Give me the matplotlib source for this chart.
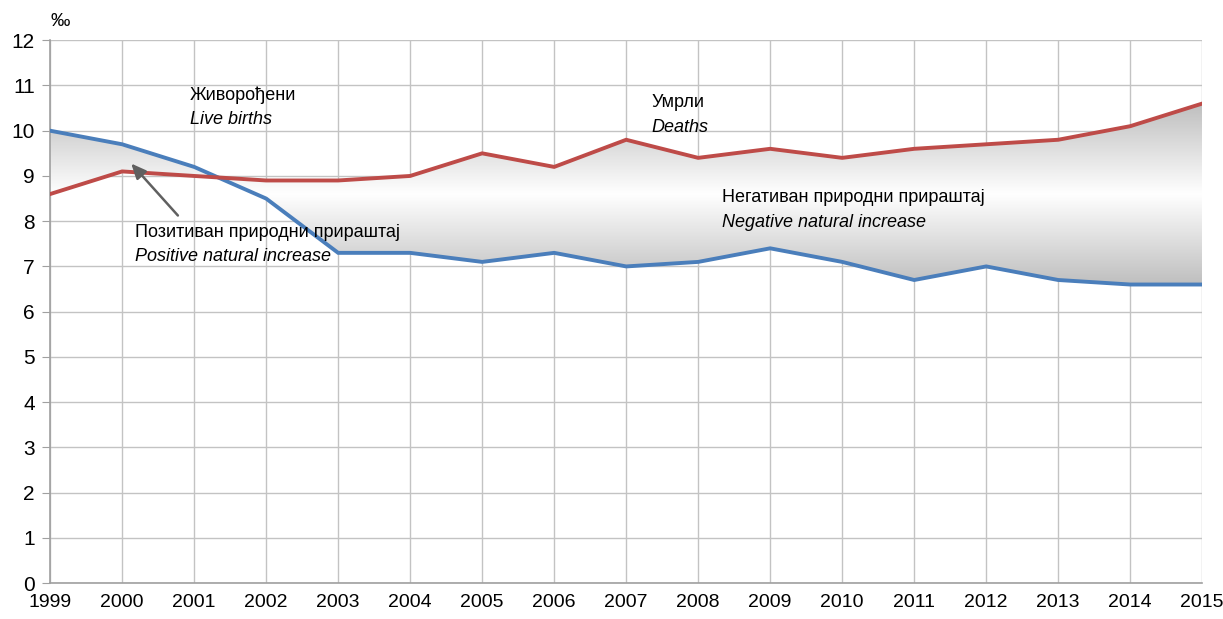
#!/usr/bin/env python3
"""Live births vs deaths per 1000, with natural increase shading."""

import matplotlib

matplotlib.use("Agg")

import matplotlib.pyplot as plt
import numpy as np
from matplotlib.colors import LinearSegmentedColormap

years = list(range(1999, 2016))
live_births = [10.0, 9.7, 9.2, 8.5, 7.3, 7.3, 7.1, 7.3, 7.0, 7.1, 7.4, 7.1, 6.7, 7.0, 6.7, 6.6, 6.6]
deaths = [8.6, 9.1, 9.0, 8.9, 8.9, 9.0, 9.5, 9.2, 9.8, 9.4, 9.6, 9.4, 9.6, 9.7, 9.8, 10.1, 10.6]
y_ticks = list(range(0, 13))

BLUE = "#4a7ebb"
RED = "#be4b48"
GRID = "#c3c3c3"

plt.rcParams["font.family"] = ["Liberation Sans Narrow", "Liberation Sans", "DejaVu Sans"]

fig = plt.figure(figsize=(12.23, 6.19), dpi=100)
ax = fig.add_axes([0.041, 0.058, 0.942, 0.877])

x = np.array(years, dtype=float)
lb = np.array(live_births)
dt = np.array(deaths)

# grey-white-grey vertical gradient clipped to the area between lines
poly = ax.fill_between(x, lb, dt, color="none", linewidth=0)
grad = LinearSegmentedColormap.from_list("g", ["#bdbdbd", "#ffffff", "#bdbdbd"])
img = ax.imshow(np.linspace(0, 1, 256).reshape(-1, 1), cmap=grad, aspect="auto",
                extent=[x[0], x[-1], 6.55, 10.65], origin="upper", zorder=1)
img.set_clip_path(poly.get_paths()[0], transform=ax.transData)

ax.plot(x, lb, color=BLUE, linewidth=2.8, zorder=3, solid_joinstyle="miter")
ax.plot(x, dt, color=RED, linewidth=2.8, zorder=3, solid_joinstyle="miter")

ax.set_xlim(1999, 2015)
ax.set_ylim(0, 12)
ax.set_xticks(years)
ax.set_yticks(y_ticks)
ax.grid(True, color=GRID, linewidth=1.0, zorder=0)
ax.set_axisbelow(True)
for side in ("top", "right"):
    ax.spines[side].set_visible(False)
for side in ("left", "bottom"):
    ax.spines[side].set_color("#a0a0a0")
    ax.spines[side].set_linewidth(1.2)
ax.tick_params(axis="y", length=6, color="#a0a0a0", labelsize=15, pad=5)
ax.tick_params(axis="x", length=0, labelsize=14, pad=8)

fig.text(0.049, 0.965, "‰", fontsize=14, ha="center", va="center")

fs = 13
ax.text(2000.94, 10.78, "Живорођени", fontsize=fs, va="center")
ax.text(2000.94, 10.25, "Live births", fontsize=fs, style="italic", va="center")
ax.text(2007.35, 10.62, "Умрли", fontsize=fs, va="center")
ax.text(2007.35, 10.07, "Deaths", fontsize=fs, style="italic", va="center")
ax.text(2008.33, 8.52, "Негативан природни прираштај", fontsize=fs, va="center")
ax.text(2008.33, 7.98, "Negative natural increase", fontsize=fs, style="italic", va="center")
ax.text(2000.18, 7.76, "Позитиван природни прираштај", fontsize=fs, va="center")
ax.text(2000.18, 7.22, "Positive natural increase", fontsize=fs, style="italic", va="center")

ax.annotate("", xy=(2000.1, 9.32), xytext=(2000.8, 8.08),
            arrowprops=dict(arrowstyle="-|>,head_length=0.9,head_width=0.4",
                            color="#606060", linewidth=1.8), zorder=4)

fig.savefig("out.png", dpi=100)
